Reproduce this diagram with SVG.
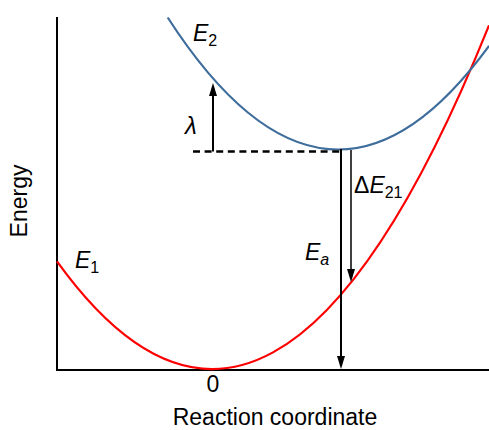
<svg xmlns="http://www.w3.org/2000/svg" width="489" height="430" viewBox="0 0 489 430">
<style>
.ax{stroke:#000;stroke-width:2;fill:none}
.lbl{font-family:"Liberation Sans",Arial,sans-serif;fill:#000}
.it{font-style:italic}
.arr{stroke:#000;fill:none}
</style>
<defs>
<marker id="ah" markerUnits="userSpaceOnUse" markerWidth="14" markerHeight="9" refX="4" refY="4" orient="auto">
<path d="M0,0 L13,4 L0,8 z" fill="#000"/>
</marker>
</defs>
<rect width="489" height="430" fill="#fff"/>
<g id="axes">
<path class="ax" d="M57,17 V370 H489"/>
</g>
<g id="curve-E1">
<path d="M57,261.4 Q273,561.4 489,25.3" stroke="#ff0000" stroke-width="2.2" fill="none"/>
</g>
<g id="curve-E2">
<path d="M167.7,17.5 Q328.35,266.5 489,45.8" stroke="#3e6d9c" stroke-width="2.2" fill="none"/>
</g>
<g id="connectors">
<line x1="193" y1="151.5" x2="341" y2="151.5" stroke="#000" stroke-width="2.4" stroke-dasharray="7,4.6"/>
<line class="arr" x1="213" y1="151.5" x2="213" y2="92" stroke-width="2" marker-end="url(#ah)"/>
<line class="arr" x1="341" y1="149" x2="341" y2="360" stroke-width="2" marker-end="url(#ah)"/>
<line class="arr" x1="351" y1="150" x2="351" y2="273" stroke-width="1.5" marker-end="url(#ah)"/>
</g>
<g id="label-energy"><text class="lbl" font-size="23" text-anchor="middle" transform="translate(27,201) rotate(-90)">Energy</text></g>
<g id="label-reaction"><text class="lbl" font-size="23" x="275" y="425" text-anchor="middle">Reaction coordinate</text></g>
<g id="label-zero"><text class="lbl" font-size="23" x="213" y="392" text-anchor="middle">0</text></g>
<g id="label-E2"><text class="lbl" font-size="23" x="193" y="41"><tspan class="it">E</tspan><tspan font-size="16" dy="5">2</tspan></text></g>
<g id="label-E1"><text class="lbl" font-size="23" x="75" y="268"><tspan class="it">E</tspan><tspan font-size="16" dy="5">1</tspan></text></g>
<g id="label-lambda"><text class="lbl it" font-size="24" x="185" y="134">λ</text></g>
<g id="label-dE21"><text class="lbl" font-size="23" x="354" y="193">Δ<tspan class="it">E</tspan><tspan font-size="16" dy="5">21</tspan></text></g>
<g id="label-Ea"><text class="lbl" font-size="23" x="305" y="260"><tspan class="it">E</tspan><tspan class="it" font-size="16" dy="5">a</tspan></text></g>
</svg>
